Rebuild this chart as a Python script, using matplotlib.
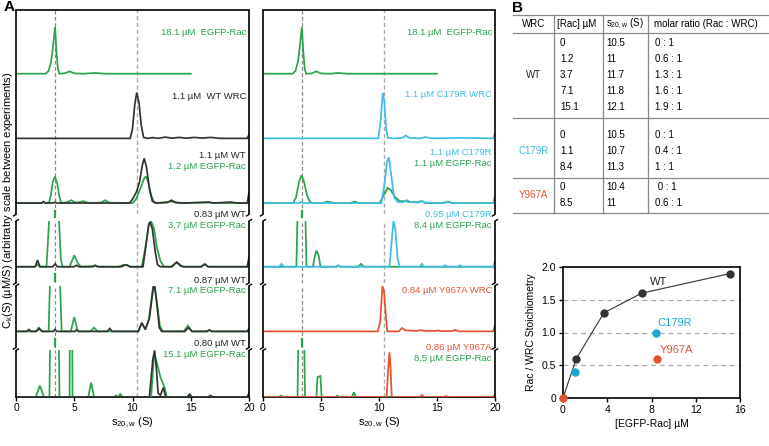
import numpy as np
import matplotlib
matplotlib.use('Agg')
import matplotlib.pyplot as plt
from matplotlib.lines import Line2D

plt.rcParams['font.family'] = ['Liberation Sans', 'DejaVu Sans']
plt.rcParams['mathtext.fontset'] = 'custom'
plt.rcParams['mathtext.rm'] = 'Liberation Sans'
plt.rcParams['mathtext.it'] = 'Liberation Sans:italic'

# ---------------- data (s in S, amplitude in arbitrary units) ----------------
L1_egfp = [(0,0),(2.55,0),(2.8,3),(3.0,12),(3.15,26),(3.35,49),(3.48,22),(3.6,5),(3.72,0),(4.2,0.5),(4.6,2.5),(5.0,0.4),(5.8,0),(6.8,0.8),(7.6,0),(15.0,0)]
L2_wt = [(0,0),(9.8,0),(10.0,10),(10.2,36),(10.36,48),(10.55,38),(10.75,14),(10.95,1),(11.3,0),(11.7,0.8),(12.2,0),(12.8,1.3),(13.4,0.2),(14.0,1),(14.6,0.2),(15.3,1),(16.0,0.3),(16.7,1),(17.5,0),(19.85,0),(20,4)]
L3_egfp = [(0,0),(2.2,0),(2.4,1.2),(2.6,0),(2.85,1),(3.0,9),(3.15,22),(3.35,28),(3.55,20),(3.7,8),(3.85,1),(4.1,0),(4.5,1.5),(4.75,3),(5.0,1),(5.3,0.5),(5.8,2),(6.2,0),(7.3,0.5),(7.65,3),(8.0,0.3),(10.0,0),(10.3,4),(10.7,16),(11.0,26),(11.15,28),(11.35,22),(11.6,8),(11.85,1),(12.2,0),(13.2,1.5),(13.5,1.2),(14,0),(16.6,0.5),(17,0),(20,0)]
L3_wt = [(0,0),(2.2,0),(2.35,1.5),(2.5,0),(3.2,0),(3.35,0.8),(3.5,0),(9.75,0),(10.05,5),(10.35,12),(10.6,22),(10.85,40),(11.0,47),(11.2,38),(11.45,15),(11.7,2),(11.95,0),(13.0,0.5),(13.35,3),(13.7,0.5),(14.5,0),(16.5,1),(17,0),(18.4,1),(19,0),(19.85,0),(20,11)]
L4_egfp = [(0,0),(1.6,0),(1.85,2),(2.1,0),(2.62,0),(3.3,150),(3.85,8),(3.98,0),(4.6,0),(5.0,12),(5.3,4),(5.55,0),(6.5,0.5),(6.8,1.5),(7.1,0),(8.8,0),(9.2,2),(9.5,1.5),(9.8,0),(10.8,0),(11.1,20),(11.4,44),(11.6,48),(11.85,40),(12.1,20),(12.4,6),(12.7,0),(13.3,0),(13.7,4),(14.0,3),(14.3,0),(15.9,0),(16.2,3),(16.5,0),(20,0)]
L4_wt = [(0,0),(1.65,0),(1.85,7),(2.05,0),(3.15,0),(3.35,3),(3.55,0),(5.0,0),(5.2,1.5),(5.4,0),(6.6,0),(6.8,1.2),(7.0,0),(9.0,0),(9.3,1.5),(9.5,2),(9.8,0),(10.9,0),(11.15,22),(11.4,45),(11.5,47),(11.7,40),(11.95,16),(12.15,2),(12.4,0),(13.4,0),(13.8,5),(14.1,1),(14.4,0),(15.9,0),(16.2,2.5),(16.5,0),(19.85,0),(20,10)]
L5_egfp = [(0,0),(1.7,0),(1.95,4),(2.2,0),(2.8,0),(3.3,220),(3.92,0),(4.7,0),(5.0,15),(5.3,0),(6.4,0),(6.7,4),(7.0,0),(10.5,0),(10.8,9),(11.1,2),(11.4,12),(11.75,46),(11.9,48),(12.1,30),(12.35,6),(12.6,0),(14.4,0),(14.75,6),(15.1,0),(16.4,0),(16.6,1.5),(16.8,0),(20,0)]
L5_wt = [(0,0),(0.9,0),(1.1,2),(1.3,0),(1.75,0),(2.0,3),(2.25,0),(3.2,0),(3.35,2),(3.5,0),(5.05,0),(5.2,1.5),(5.4,0),(7.85,0),(8.05,3),(8.25,0),(10.5,0),(10.8,9),(11.1,2),(11.45,14),(11.8,47),(11.9,48),(12.1,28),(12.3,4),(12.5,0),(14.5,0),(14.8,4),(15.1,0),(16.4,0),(16.6,1.5),(16.8,0),(19.85,0),(20,3)]
L6_egfp = [(0,0),(1.7,0),(2.05,12),(2.4,0),(2.87,0),(3.3,500),(3.73,0),(4.6,0),(4.72,400),(4.85,0),(6.2,0),(6.45,15),(6.7,0),(8.4,0),(8.6,1.5),(8.8,0),(8.95,3),(9.15,0),(11.6,0),(11.85,45),(12.0,40),(12.4,21),(12.75,10),(12.95,0),(14.7,0),(14.9,3),(15.1,0),(20,0)]
L6_wt = [(0,0),(11.45,0),(11.75,40),(11.9,49),(12.05,30),(12.2,4),(12.4,2),(12.65,10),(12.85,0),(14.7,0),(14.9,2.5),(15.1,0),(16.5,0),(16.7,1.5),(16.9,0),(19.85,0),(20,4)]

R1_egfp = [(0,0),(2.55,0),(2.8,3),(3.0,12),(3.15,26),(3.35,49),(3.48,22),(3.6,5),(3.72,0),(4.2,0.3),(4.6,2.5),(5.0,0.3),(5.8,0),(6.5,0.8),(7.2,0),(15.0,0)]
R2_c179r = [(0,0),(9.95,0),(10.15,20),(10.32,48),(10.45,40),(10.6,12),(10.75,0.5),(11.2,0),(12.0,0.5),(12.3,3),(12.6,0.5),(13.5,0),(14.0,1.3),(14.5,0),(17,0.5),(19.85,0),(20,6)]
R3_egfp = [(0,0),(2.6,0),(2.85,6),(3.1,22),(3.3,29),(3.5,24),(3.8,8),(4.05,1),(4.3,0),(5.2,0),(5.5,1.5),(5.8,0.8),(6.2,0),(7.5,0),(7.9,1.5),(8.3,0),(10.05,0),(10.4,8),(10.75,16),(11.0,14),(11.4,6),(11.8,2),(12.3,2),(12.6,1),(13.3,1),(13.7,2),(14.0,0),(15.6,0),(15.95,1.5),(16.3,0),(20,0)]
R3_c179r = [(0,0),(3.1,0),(3.3,1),(3.5,0),(10.2,0),(10.45,18),(10.7,44),(10.85,48),(11.05,30),(11.3,6),(11.6,1),(12.1,1),(12.4,3),(12.7,1),(13.4,0.5),(13.7,2),(14.0,0.5),(15.5,0),(15.9,1.5),(16.3,0),(19.85,0),(20,8)]
R4_egfp = [(0,0),(2.88,0),(3.3,250),(3.75,0),(4.3,0),(4.45,10),(4.6,17),(4.8,12),(4.95,0),(6.35,0),(6.5,1),(6.65,0),(8.2,0),(8.45,3),(8.7,0),(20,0)]
R4_c179r = [(0,0),(1.4,0),(1.6,3),(1.8,0),(6.3,0),(6.47,1.5),(6.65,0),(10.9,0),(11.1,28),(11.25,48),(11.4,40),(11.6,10),(11.75,0),(13.5,0),(13.7,3),(13.9,0),(15.5,0),(15.7,1.5),(15.9,0),(16.8,0),(17.0,1.5),(17.2,0),(19.85,0),(20,6)]
R5_y967a = [(0,0),(9.9,0),(10.1,10),(10.3,48),(10.45,40),(10.6,15),(10.72,0),(11.7,0),(12.0,3.5),(12.3,1),(13.3,0.5),(13.6,1.5),(13.9,0.5),(14.8,0.5),(15.1,1),(15.4,0.3),(16.3,0.3),(16.6,1.5),(16.9,0),(19.85,0),(20,7)]
R6_egfp = [(0,0),(1.35,0),(1.55,1.5),(1.75,0),(2.98,0),(3.3,300),(3.62,0),(4.6,0),(4.7,21),(4.95,22),(5.05,0),(6.25,0),(6.4,1.5),(6.55,0),(7.65,0),(7.84,5),(8.0,0),(20,0)]
R6_y967a = [(0,0),(10.65,0),(10.8,30),(10.9,47),(11.0,30),(11.1,0),(13.5,0),(13.7,2),(13.9,0),(15.6,0),(15.8,1),(16.0,0),(19.85,0),(20,3)]

left_labels = [["18.1 µM  EGFP-Rac"], ["1.1 µM  WT WRC"], ["1.1 µM WT", "1.2 µM EGFP-Rac"],
               ["0.83 µM WT", "3.7 µM EGFP-Rac"], ["0.87 µM WT", "7.1 µM EGFP-Rac"],
               ["0.80 µM WT", "15.1 µM EGFP-Rac"]]
right_labels = [["18.1 µM  EGFP-Rac"], ["1.1 µM C179R WRC"], ["1.1 µM C179R", "1.1 µM EGFP-Rac"],
                ["0.95 µM C179R", "8.4 µM EGFP-Rac"], ["0.84 µM Y967A WRC"],
                ["0.86 µM Y967A", "8.5 µM EGFP-Rac"]]
ref_lines = [3.35, 10.4]
s_ticks = [0, 5, 10, 15, 20]

# table
tbl_header = ["WRC", "[Rac] µM", "s$_\\mathregular{20,w}$ (S)", "molar ratio (Rac : WRC)"]
tbl_groups = ["WT", "C179R", "Y967A"]
tbl_rac = [["0", "1.2", "3.7", "7.1", "15.1"], ["0", "1.1", "8.4"], ["0", "8.5"]]
tbl_s = [["10.5", "11", "11.7", "11.8", "12.1"], ["10.5", "10.7", "11.3"], ["10.4", "11"]]
tbl_ratio = [["0 : 1", "0.6 : 1", "1.3 : 1", "1.6 : 1", "1.9 : 1"], ["0 : 1", "0.4 : 1", "1 : 1"], [" 0 : 1", "0.6 : 1"]]

# stoichiometry
wt_rac = [0, 1.2, 3.7, 7.1, 15.1]
wt_ratio = [0, 0.6, 1.3, 1.6, 1.9]
c179r_rac = [1.1, 8.4]
c179r_ratio = [0.4, 1.0]
y967a_rac = [0, 8.5]
y967a_ratio = [0.0, 0.6]

# ---------------- styling ----------------
GREEN = '#2ba24c'
CYAN = '#3dbde8'
RED = '#e5512f'
DARK = '#333333'
W, H = 769, 446
fig = plt.figure(figsize=(W/100, H/100), dpi=100)

def fx(px): return px / W
def fy(py): return 1 - py / H

K = (397 - 10) / (417 - 10)
def ty(r): return 10 + (r - 10) * K

BOT = 417
blocks = [(10, 225), (232, 297), (300, 365), (368, 417)]
baselines = [77, 145, 213, 280, 348, 417]
block_of = [0, 0, 0, 1, 2, 3]
left_label_y = [34, 101, 163, 225, 294, 361]
right_label_y = [34, 99, 160, 225, 305, 365]

def fline(xs, ys, **kw):
    fig.add_artist(Line2D([fx(x) for x in xs], [fy(y) for y in ys], **kw))

def make_column(x0, x1, traces, labels, label_colors, label_y, stub_panels):
    axes = []
    for bi, (t, b) in enumerate(blocks):
        ax = fig.add_axes([fx(x0), fy(ty(b)), fx(x1) - fx(x0), (ty(b) - ty(t)) / H])
        ax.set_xlim(0, 20)
        ax.set_ylim(BOT - b, BOT - t)
        ax.patch.set_alpha(0)
        for sp in ax.spines.values():
            sp.set_visible(False)
        ax.set_yticks([])
        if bi == 3:
            ax.spines['bottom'].set_visible(True)
            ax.spines['bottom'].set_linewidth(1.2)
            ax.set_xticks(s_ticks)
            ax.tick_params(axis='x', direction='out', length=3, width=1, labelsize=7.5, pad=1.5)
            ax.set_xlabel("s$_\\mathregular{20,w}$ (S)", fontsize=8, labelpad=2)
        else:
            ax.set_xticks([])
        ax.axvline(ref_lines[0], color='#888888', lw=0.9, ls=(0, (3, 2)), zorder=1)
        ax.axvline(ref_lines[1], color='#aaaaaa', lw=1.0, ls=(0, (3, 2)), zorder=1)
        axes.append(ax)
    for pi, tr in enumerate(traces):
        ax = axes[block_of[pi]]
        base = BOT - baselines[pi]
        for data, col in tr:
            s = np.array([p[0] for p in data])
            c = np.array([p[1] for p in data])
            ax.plot(s, base + c, color=col, lw=1.25, zorder=3, solid_joinstyle='miter')
    # stubs of broken peaks
    for pi in stub_panels:
        ax = axes[block_of[pi]]
        yb = BOT - baselines[pi - 1]
        ax.plot([3.33, 3.33], [yb - 8, yb - 15], color=GREEN, lw=1.6, clip_on=False, zorder=3)
    # labels
    for pi, labs in enumerate(labels):
        for li, txt in enumerate(labs):
            yy = ty(label_y[pi] + li * 11.5)
            fig.text(fx(x1 - 3), fy(yy), txt, ha='right', va='center', fontsize=6.8,
                     color=label_colors[pi][li])
    # spines with breaks
    for xs in (x0, x1):
        for bi, (t, b) in enumerate(blocks):
            fline([xs, xs], [ty(t), ty(b)], color='black', lw=1.2, solid_capstyle='butt')
            if bi < 3:
                fline([xs, xs - 2.5], [ty(b), ty(b) + 1.5], color='black', lw=1.0)
            if bi > 0:
                fline([xs, xs + 2.5], [ty(t), ty(t) - 1.5], color='black', lw=1.0)
    fline([x0, x1], [10, 10], color='black', lw=1.2)
    return axes

left_traces = [[(L1_egfp, GREEN)], [(L2_wt, DARK)], [(L3_egfp, GREEN), (L3_wt, DARK)],
               [(L4_egfp, GREEN), (L4_wt, DARK)], [(L5_egfp, GREEN), (L5_wt, DARK)],
               [(L6_egfp, GREEN), (L6_wt, DARK)]]
right_traces = [[(R1_egfp, GREEN)], [(R2_c179r, CYAN)], [(R3_egfp, GREEN), (R3_c179r, CYAN)],
                [(R4_egfp, GREEN), (R4_c179r, CYAN)], [(R5_y967a, RED)],
                [(R6_egfp, GREEN), (R6_y967a, RED)]]
left_cols = [[GREEN], ['#222222'], ['#222222', GREEN], ['#222222', GREEN], ['#222222', GREEN], ['#222222', GREEN]]
right_cols = [[GREEN], [CYAN], [CYAN, GREEN], [CYAN, GREEN], [RED], [RED, GREEN]]

make_column(16, 249, left_traces, left_labels, left_cols, left_label_y, [3, 4, 5])
make_column(263, 495, right_traces, right_labels, right_cols, right_label_y, [3, 5])

fig.text(fx(8), fy(200), "C$_\\mathregular{k}$(S) (µM/S) (arbitratry scale between experiments)",
         rotation=90, ha='center', va='center', fontsize=8)
fig.text(fx(4), fy(7), "A", fontsize=11, fontweight='bold', ha='left', va='center')
fig.text(fx(512), fy(8), "B", fontsize=11, fontweight='bold', ha='left', va='center')

# ---------------- table ----------------
TL = dict(color='#888888', lw=0.9)
top_line, hdr_line = 15, 33
fline([513, 769], [top_line, top_line], **TL)
fline([513, 769], [hdr_line, hdr_line], **TL)
col_x = [534, 557, 606, 654]
vlines = [554, 603, 648]
hdr_y = 24
fig.text(fx(col_x[0]), fy(hdr_y), tbl_header[0], ha='center', va='center', fontsize=7)
for k in range(1, 4):
    fig.text(fx(col_x[k]), fy(hdr_y), tbl_header[k], ha='left', va='center', fontsize=7)
group_rows = [[43, 59, 75, 91, 107], [135, 151, 167], [187, 203]]
seps = [118, 178, 213]
gcols = ['#222222', CYAN, RED]
for g in range(3):
    rows = group_rows[g]
    fig.text(fx(col_x[0]), fy(np.mean(rows)), tbl_groups[g], ha='center', va='center',
             fontsize=7, color=gcols[g])
    for r, yy in enumerate(rows):
        fig.text(fx(560), fy(yy), tbl_rac[g][r], ha='left', va='center', fontsize=7)
        fig.text(fx(606), fy(yy), tbl_s[g][r], ha='left', va='center', fontsize=7)
        fig.text(fx(655), fy(yy), tbl_ratio[g][r], ha='left', va='center', fontsize=7)
    fline([513, 769], [seps[g], seps[g]], **TL)
for vx in vlines:
    fline([vx, vx], [top_line, seps[-1]], **TL)

# ---------------- stoichiometry plot ----------------
axb = fig.add_axes([fx(563), fy(398), fx(740) - fx(563), (398 - 267) / H])
axb.set_xlim(0, 16)
axb.set_ylim(0, 2)
for yv in (0.5, 1.0, 1.5):
    axb.axhline(yv, color='#aaaaaa', lw=0.9, ls=(0, (4, 3)), zorder=0)
axb.plot(wt_rac, wt_ratio, '-o', color='#333333', lw=0.8, ms=5, zorder=3)
axb.plot(c179r_rac, c179r_ratio, 'o', color='#1fa6cf', ms=5, zorder=4, ls='none')
axb.plot(y967a_rac, y967a_ratio, 'o', color=RED, ms=5, zorder=5, ls='none', clip_on=False)
axb.set_xticks([0, 4, 8, 12, 16])
axb.set_yticks([0, 0.5, 1.0, 1.5, 2.0])
axb.set_yticklabels(["0", "0.5", "1.0", "1.5", "2.0"])
axb.tick_params(direction='out', length=3, width=1, labelsize=7.5, pad=2)
for sp in axb.spines.values():
    sp.set_linewidth(1.2)
axb.set_xlabel("[EGFP-Rac] µM", fontsize=7.5, labelpad=3)
axb.set_ylabel("Rac / WRC Stoichiometry", fontsize=7.5, labelpad=4)
axb.text(7.9, 1.77, "WT", fontsize=8, color='#222222', ha='left', va='center')
axb.text(8.5, 1.15, "C179R", fontsize=8, color='#1fa6cf', ha='left', va='center')
axb.text(8.7, 0.74, "Y967A", fontsize=8, color=RED, ha='left', va='center')

fig.savefig("out.png", dpi=100)
